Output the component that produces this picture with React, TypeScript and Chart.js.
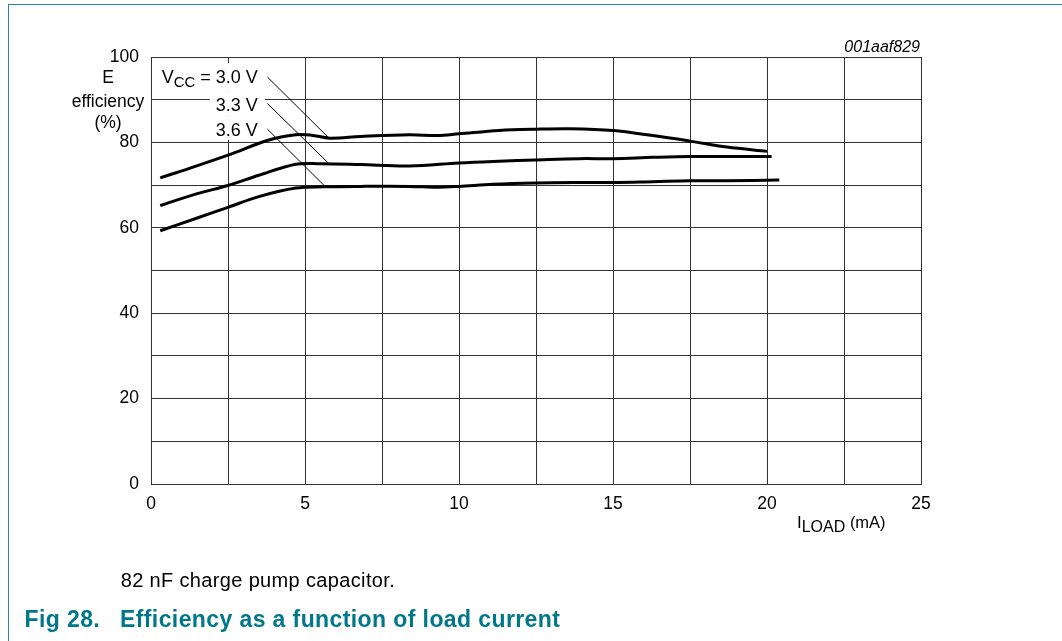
import React, { useEffect, useRef } from "react";
import { Chart, registerables } from "chart.js";

Chart.register(...registerables);

// ---- data ----
const vcc30X = [0.3, 1.2, 2.5, 3.8, 4.7, 5.2, 5.8, 6.8, 8.4, 9.3, 10, 11.3, 12.5, 13.6, 15, 16.3, 17.5, 18.7, 20.0];
const vcc30Y = [71.7, 73.8, 77.0, 80.5, 81.8, 81.7, 81.0, 81.4, 81.8, 81.6, 82.0, 82.8, 83.1, 83.2, 82.8, 81.6, 80.3, 78.9, 77.9];

const vcc33X = [0.3, 1.5, 2.5, 3.5, 4.7, 5.5, 6.8, 8.4, 10, 11.3, 12.5, 13.9, 15, 16.3, 17.5, 18.7, 20.15];
const vcc33Y = [65.2, 68.0, 69.9, 72.3, 74.9, 75.0, 74.8, 74.5, 75.2, 75.6, 75.9, 76.2, 76.2, 76.5, 76.7, 76.7, 76.7];

const vcc36X = [0.3, 1.5, 2.5, 3.5, 4.7, 5.6, 6.8, 8.4, 9.3, 10, 11.1, 12.5, 13.9, 15, 16.3, 17.5, 18.7, 20.4];
const vcc36Y = [59.3, 62.3, 64.8, 67.3, 69.3, 69.6, 69.7, 69.7, 69.5, 69.7, 70.2, 70.5, 70.6, 70.6, 70.8, 71.0, 71.0, 71.2];

const xTickLabels = [0, 5, 10, 15, 20, 25];
const yTickLabels = [0, 20, 40, 60, 80, 100];
const yTitleLines = ["E", "efficiency", "(%)"];
const seriesLabels = ["3.0 V", "3.3 V", "3.6 V"];

// label anchors (data units) and leader lines
const labelRightX = 3.47;
const labelBaselineY = [93.9, 87.4, 81.4];
const leaderFromX = [3.78, 3.78, 3.78];
const leaderFromY = [95.3, 89.1, 83.1];
const leaderToX = [5.78, 5.78, 5.65];
const leaderToY = [81.0, 75.0, 69.7];

const FONT = "'Liberation Sans', Arial, Helvetica, sans-serif";
const GRID = "#333333";
const TEAL = "#00788a";

const zip = (xs: number[], ys: number[]) => xs.map((x, i) => ({ x, y: ys[i] }));

const annotPlugin = {
  id: "annot",
  beforeDatasetsDraw(chart: any) {
    const { ctx } = chart;
    const x = chart.scales.x;
    const y = chart.scales.y;
    const right = x.getPixelForValue(labelRightX);
    ctx.save();
    ctx.fillStyle = "#ffffff";
    const bases = labelBaselineY.map((v) => y.getPixelForValue(v));
    ctx.fillRect(right - 103, bases[0] - 20, 110, bases[1] - bases[0]);
    ctx.fillRect(right - 48, bases[1] - 20, 55, bases[2] - bases[1]);
    ctx.fillRect(right - 48, bases[2] - 20, 55, 23.5);
    ctx.restore();
  },
  afterDatasetsDraw(chart: any) {
    const { ctx } = chart;
    const x = chart.scales.x;
    const y = chart.scales.y;
    ctx.save();
    ctx.fillStyle = "#000";
    ctx.textBaseline = "alphabetic";

    // series labels
    const right = x.getPixelForValue(labelRightX);
    const bases = labelBaselineY.map((v) => y.getPixelForValue(v));
    const main = `18px ${FONT}`;
    const sub = `15px ${FONT}`;
    ctx.font = main;
    const tail = " = " + seriesLabels[0];
    const wTail = ctx.measureText(tail).width;
    const wV = ctx.measureText("V").width;
    ctx.font = sub;
    const wCC = ctx.measureText("CC").width;
    let cx = right - wTail - wCC - wV;
    ctx.font = main;
    ctx.textAlign = "left";
    ctx.fillText("V", cx, bases[0]);
    cx += wV;
    ctx.font = sub;
    ctx.fillText("CC", cx, bases[0] + 4);
    cx += wCC;
    ctx.font = main;
    ctx.fillText(tail, cx, bases[0]);
    ctx.textAlign = "right";
    ctx.fillText(seriesLabels[1], right, bases[1]);
    ctx.fillText(seriesLabels[2], right, bases[2]);

    // leader lines
    ctx.strokeStyle = "#000";
    ctx.lineWidth = 1;
    for (let i = 0; i < leaderFromX.length; i++) {
      ctx.beginPath();
      ctx.moveTo(x.getPixelForValue(leaderFromX[i]), y.getPixelForValue(leaderFromY[i]));
      ctx.lineTo(x.getPixelForValue(leaderToX[i]), y.getPixelForValue(leaderToY[i]));
      ctx.stroke();
    }

    // y-axis title
    ctx.font = `17.5px ${FONT}`;
    ctx.textAlign = "center";
    const tx = x.left - 43;
    const top = y.top;
    ctx.fillText(yTitleLines[0], tx, top + 26.3);
    ctx.fillText(yTitleLines[1], tx, top + 50);
    ctx.fillText(yTitleLines[2], tx, top + 71);

    // x-axis title  I_LOAD (mA)
    ctx.textAlign = "left";
    let lx = x.right - 124;
    const lb = y.bottom + 43.5;
    ctx.font = `17px ${FONT}`;
    ctx.fillText("I", lx, lb);
    lx += ctx.measureText("I").width;
    ctx.font = `16px ${FONT}`;
    ctx.fillText("LOAD", lx, lb + 4);
    lx += ctx.measureText("LOAD").width;
    ctx.font = `16.5px ${FONT}`;
    ctx.fillText(" (mA)", lx, lb);

    // figure id
    ctx.font = `italic 16px ${FONT}`;
    ctx.textAlign = "right";
    ctx.fillText("001aaf829", x.right - 1, y.top - 5);
    ctx.restore();
  },
};

export default function App() {
  const ref = useRef<HTMLCanvasElement | null>(null);
  useEffect(() => {
    if (!ref.current) return;
    const mk = (xs: number[], ys: number[], label: string) => ({
      label,
      data: zip(xs, ys),
      borderColor: "#000",
      borderWidth: 3,
      pointRadius: 0,
      fill: false,
      tension: 0.35,
      borderCapStyle: "butt" as const,
    });
    const chart = new Chart(ref.current, {
      type: "line",
      data: {
        datasets: [
          mk(vcc30X, vcc30Y, "VCC = 3.0 V"),
          mk(vcc33X, vcc33Y, "3.3 V"),
          mk(vcc36X, vcc36Y, "3.6 V"),
        ],
      },
      options: {
        animation: false,
        responsive: false,
        layout: { padding: { top: 57, right: 141, left: 0, bottom: 0 } },
        plugins: { legend: { display: false }, tooltip: { enabled: false }, title: { display: false } },
        scales: {
          x: {
            type: "linear",
            min: 0,
            max: 25,
            afterFit: (s: any) => {
              s.height = 157;
            },
            ticks: {
              stepSize: 2.5,
              autoSkip: false,
              maxRotation: 0,
              padding: 10,
              color: "#000",
              font: { family: FONT, size: 17.5 },
              callback: (v: any) => {
                const n = Number(v);
                return xTickLabels.some((t) => Math.abs(t - n) < 1e-6) ? String(Math.round(n)) : "";
              },
            },
            grid: { color: GRID, lineWidth: 1, drawTicks: false },
            border: { display: true, color: GRID, width: 1 },
          },
          y: {
            type: "linear",
            min: 0,
            max: 100,
            afterFit: (s: any) => {
              s.width = 151;
            },
            ticks: {
              stepSize: 10,
              autoSkip: false,
              padding: 12,
              color: "#000",
              font: { family: FONT, size: 17.5 },
              callback: (v: any) => {
                const n = Number(v);
                return yTickLabels.some((t) => Math.abs(t - n) < 1e-6) ? String(Math.round(n)) : "";
              },
            },
            grid: { color: GRID, lineWidth: 1, drawTicks: false },
            border: { display: true, color: GRID, width: 1 },
          },
        },
      },
      plugins: [annotPlugin],
    });
    return () => chart.destroy();
  }, []);

  const titleStyle: React.CSSProperties = {
    position: "absolute",
    top: 608.4,
    fontFamily: FONT,
    fontSize: 23,
    fontWeight: "bold",
    lineHeight: "23px",
    letterSpacing: "0.4px",
    color: TEAL,
    whiteSpace: "nowrap",
  };

  return (
    <div style={{ position: "absolute", left: 0, top: 0, width: 1062, height: 641, background: "#fff", overflow: "hidden" }}>
      <div style={{ position: "absolute", left: 8, top: 4, width: 1054, height: 1, background: "#2a8797" }} />
      <div style={{ position: "absolute", left: 8, top: 4, width: 1, height: 637, background: "#2a8797" }} />
      <canvas ref={ref} width={1062} height={641} style={{ position: "absolute", left: 0, top: 0, width: 1062, height: 641 }} />
      <div
        style={{
          position: "absolute",
          left: 120.7,
          top: 570.4,
          fontFamily: FONT,
          fontSize: 20,
          lineHeight: "20px",
          letterSpacing: "0.35px",
          color: "#000",
          whiteSpace: "nowrap",
        }}
      >
        82 nF charge pump capacitor.
      </div>
      <div style={{ ...titleStyle, left: 24.5 }}>Fig 28.</div>
      <div style={{ ...titleStyle, left: 120 }}>Efficiency as a function of load current</div>
    </div>
  );
}
